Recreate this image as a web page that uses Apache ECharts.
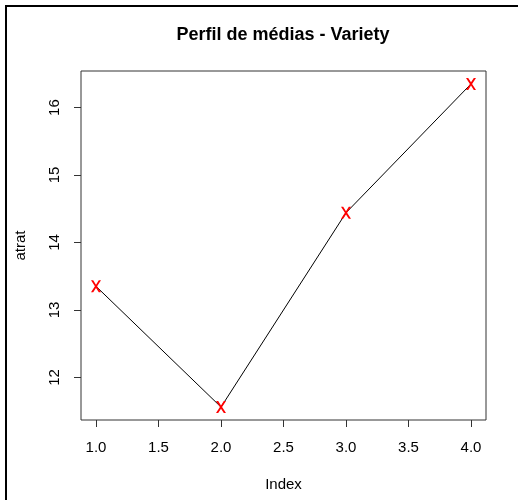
<!DOCTYPE html>
<html>
<head>
<meta charset="utf-8">
<script src="https://cdn.jsdelivr.net/npm/echarts@6/dist/echarts.min.js"></script>
<style>html,body{margin:0;padding:0;background:#fff;}#c{width:518px;height:500px;}</style>
</head>
<body>
<div id="c"></div>
<script>
const titleText = 'Perfil de médias - Variety';
const xName = 'Index';
const yName = 'atrat';
const indexValues = [1, 2, 3, 4];
const meanValues = [13.35, 11.56, 14.44, 16.35];
const xTicks = [1.0, 1.5, 2.0, 2.5, 3.0, 3.5, 4.0];
const yTicks = [12, 13, 14, 15, 16];

const FONT = '"Liberation Sans", Arial, sans-serif';
const pts = indexValues.map((x, i) => [x, meanValues[i]]);
const yMin = Math.min(...meanValues), yMax = Math.max(...meanValues);
const yExt = (yMax - yMin) * 0.04;
const xExt = (Math.max(...indexValues) - Math.min(...indexValues)) * 0.04;
const xSym = 'path://M0,0L2.2,0L5,4.4L7.8,0L10,0L6.1,6L10,12L7.8,12L5,7.6L2.2,12L0,12L3.9,6Z';

const chart = echarts.init(document.getElementById('c'), null, {renderer: 'canvas'});
chart.setOption({
  animation: false,
  backgroundColor: '#fff',
  grid: {left: 81, top: 71, right: 32, bottom: 80, show: true, borderColor: '#333', borderWidth: 1, backgroundColor: 'transparent'},
  xAxis: {
    type: 'value',
    min: Math.min(...indexValues) - xExt,
    max: Math.max(...indexValues) + xExt,
    name: xName, nameLocation: 'middle', nameGap: 57,
    nameTextStyle: {fontFamily: FONT, fontSize: 15, color: '#000'},
    axisLine: {show: false},
    splitLine: {show: false},
    axisTick: {show: true, inside: false, length: 7, customValues: xTicks, lineStyle: {color: '#333', width: 1}},
    axisLabel: {customValues: xTicks, margin: 20, fontFamily: FONT, fontSize: 15, color: '#000',
      formatter: v => v.toFixed(1)}
  },
  yAxis: {
    type: 'value',
    min: yMin - yExt,
    max: yMax + yExt,
    name: yName, nameLocation: 'middle', nameGap: 53, nameRotate: 90,
    nameTextStyle: {fontFamily: FONT, fontSize: 15, color: '#000'},
    axisLine: {show: false},
    splitLine: {show: false},
    axisTick: {show: true, inside: false, length: 7, customValues: yTicks, lineStyle: {color: '#333', width: 1}},
    axisLabel: {customValues: yTicks, margin: 19, rotate: 90, fontFamily: FONT, fontSize: 15, color: '#000'}
  },
  series: [{
    type: 'line',
    data: pts,
    symbol: xSym,
    symbolSize: [10, 12],
    showAllSymbol: true,
    lineStyle: {color: '#000', width: 1},
    itemStyle: {color: '#ff0000'},
    z: 3
  }],
  graphic: [
    {type: 'rect', shape: {x: 6, y: 6, width: 700, height: 700}, style: {fill: 'none', stroke: '#000', lineWidth: 2}, silent: true},
    {type: 'text', x: 283, y: 35, style: {text: titleText, font: 'bold 18px ' + FONT, fill: '#000', textAlign: 'center', textVerticalAlign: 'middle'}}
  ]
});
</script>
</body>
</html>
